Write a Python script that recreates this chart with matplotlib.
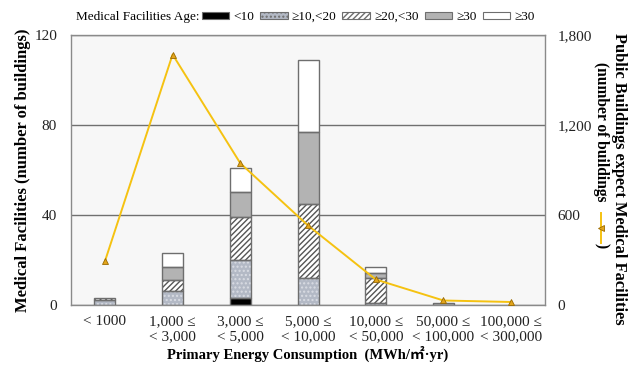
import numpy as np
import matplotlib
matplotlib.use("Agg")
import matplotlib.pyplot as plt
from matplotlib.patches import Patch
from matplotlib.lines import Line2D
from matplotlib.ticker import FuncFormatter

plt.rcParams['font.family'] = ['Liberation Serif', 'Noto Sans CJK SC', 'DejaVu Sans']

# energy consumption classes
categories = ['< 1000', '1,000 \u2264\n< 3,000', '3,000 \u2264\n< 5,000', '5,000 \u2264\n< 10,000',
              '10,000 \u2264\n< 50,000', '50,000 \u2264\n< 100,000', '100,000 \u2264\n< 300,000']

# medical facilities by building age (stacked)
age_lt10 = [0, 0, 3, 0, 0, 0, 0]
age_10_20 = [2, 6, 17, 12, 1, 0, 0]
age_20_30 = [1, 5, 19, 33, 11, 0, 0]
age_ge30_a = [0, 6, 11, 32, 2, 1, 0]
age_ge30_b = [0, 6, 11, 32, 3, 0, 0]
age_labels = ['<10', '\u226510,<20', '\u226520,<30', '\u226530', '\u226530']

# public buildings except medical facilities (right axis)
public_buildings = [290, 1670, 945, 530, 170, 30, 20]

x = np.arange(len(categories))
width = 0.31
edge = '#6e6e6e'

fig = plt.figure(figsize=(6.42, 3.65), dpi=100)
ax = fig.add_axes([0.1106, 0.1644, 0.7384, 0.7397])
ax.set_facecolor('#f7f7f7')

styles = [
    dict(fc='black', hatch=None, hc='black'),
    dict(fc='#b3b9c5', hatch='....', hc='#d9dce3'),
    dict(fc='white', hatch='//////', hc='#555555'),
    dict(fc='#b3b3b3', hatch=None, hc='#b3b3b3'),
    dict(fc='white', hatch=None, hc='white'),
]
series = [age_lt10, age_10_20, age_20_30, age_ge30_a, age_ge30_b]

bottom = np.zeros(len(x))
handles = []
for vals, st, lab in zip(series, styles, age_labels):
    vals = np.array(vals, dtype=float)
    ax.bar(x, vals, width, bottom=bottom, color=st['fc'], hatch=st['hatch'],
           edgecolor=st['hc'], linewidth=0, zorder=2)
    mask = vals > 0
    ax.bar(x[mask], vals[mask], width, bottom=bottom[mask], fill=False,
           edgecolor=edge, linewidth=1.0, zorder=3)
    bottom += vals
    handles.append(Patch(facecolor=st['fc'], hatch=st['hatch'], edgecolor=edge,
                         linewidth=0.8, label=lab))

ax.set_xlim(-0.5, len(x) - 0.5)
ax.set_ylim(0, 120)
ax.set_yticks([0, 40, 80, 120])
ax.set_xticks(x)
ax.set_xticklabels(categories, fontsize=10, va='top', linespacing=1.2)
ax.tick_params(axis='both', length=0, labelsize=11, colors='#222222')
ax.tick_params(axis='x', pad=7)
ax.tick_params(axis='y', pad=10)
ax.yaxis.grid(True, color='#707070', linewidth=1.0)
ax.set_axisbelow(True)
for s in ax.spines.values():
    s.set_color('#8a8a8a')
    s.set_linewidth(1.0)
ax.set_xlabel('Primary Energy Consumption  (MWh/\u33a1\u00b7yr)', fontsize=10.5,
              fontweight='bold', labelpad=2)
ax.set_ylabel('Medical Facilities (number of buildings)', fontsize=12,
              fontweight='bold', labelpad=2)

ax2 = ax.twinx()
line_color = '#f5c211'
ax2.plot(x, public_buildings, color=line_color, linewidth=1.4, marker='^',
         markersize=4.5, markerfacecolor='#e3a51c', markeredgecolor='#9a6a00',
         markeredgewidth=0.6, zorder=4)
ax2.set_ylim(0, 1800)
ax2.set_yticks([0, 600, 1200, 1800])
ax2.yaxis.set_major_formatter(FuncFormatter(lambda v, p: f'{int(v):,}'))
ax2.tick_params(axis='y', length=0, labelsize=11, colors='#222222', pad=9)
for s in ax2.spines.values():
    s.set_visible(False)

# right axis title with line key
fig.text(0.964, 0.51, 'Public Buildings expect Medical Facilities', rotation=270,
         ha='center', va='center', fontsize=11.8, fontweight='bold')
fig.text(0.936, 0.83, '(number of buildings', rotation=270, ha='center', va='top',
         fontsize=11.2, fontweight='bold')
fig.text(0.936, 0.335, ')', rotation=270, ha='center', va='top',
         fontsize=11.2, fontweight='bold')
fig.add_artist(Line2D([0.936, 0.936], [1 - 213 / 365, 1 - 243 / 365], transform=fig.transFigure,
                      color=line_color, linewidth=1.4))
fig.add_artist(Line2D([0.936], [1 - 228 / 365], transform=fig.transFigure, marker='<',
                      markersize=4.5, markerfacecolor='#e3a51c', markeredgecolor='#9a6a00',
                      markeredgewidth=0.6, linestyle='none'))

# legend at top
fig.text(0.31, 0.953, 'Medical Facilities Age:', fontsize=9.5, ha='right', va='center')
fig.legend(handles=handles, loc='center left', bbox_to_anchor=(0.314, 0.953), ncol=5,
           frameon=False, fontsize=9.5, handlelength=2.1, handleheight=0.55,
           handletextpad=0.3, columnspacing=0.45, borderpad=0, borderaxespad=0)

fig.savefig('out.png', dpi=100)
